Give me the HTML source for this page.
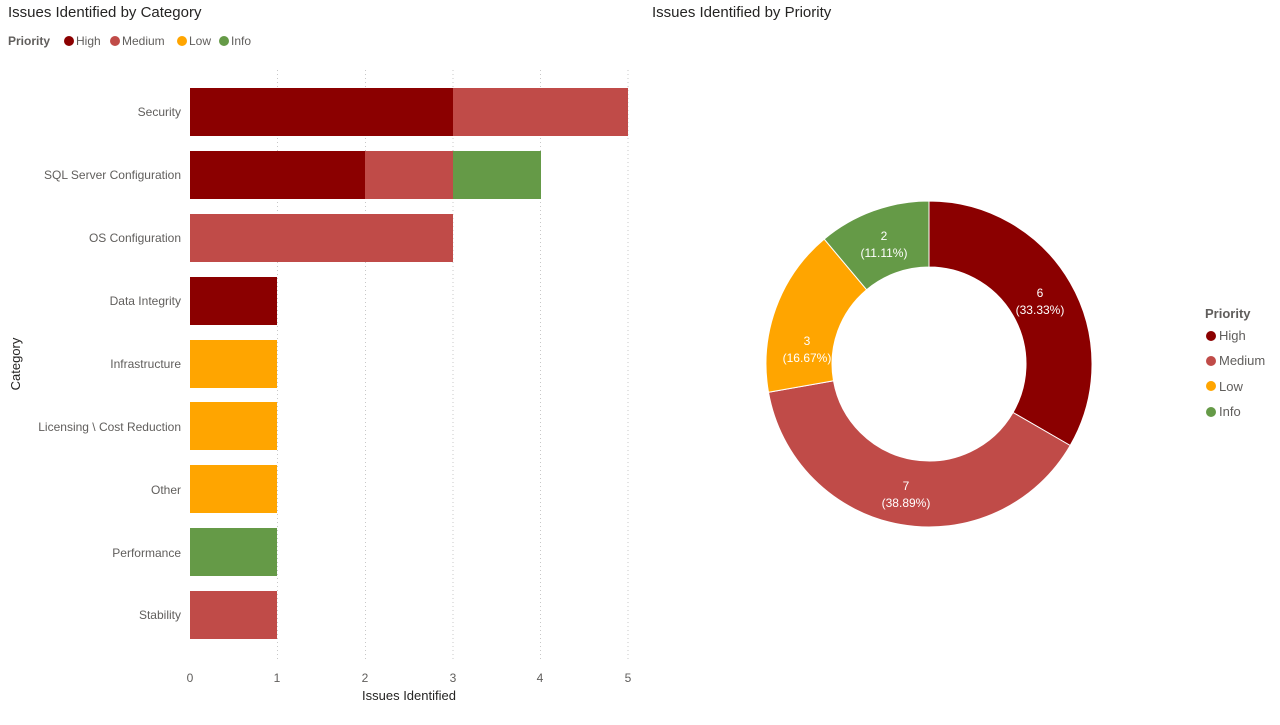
<!DOCTYPE html>
<html><head><meta charset="utf-8"><style>
body{margin:0;background:#fff;width:1280px;height:720px;overflow:hidden}
svg text{font-family:"Liberation Sans",sans-serif}
</style></head><body>
<svg width="1280" height="720" xmlns="http://www.w3.org/2000/svg">
<text x="8" y="17" font-size="15" fill="#252423">Issues Identified by Category</text>
<text x="652" y="17" font-size="15" fill="#252423">Issues Identified by Priority</text>
<g font-size="12" fill="#605e5c">
<text x="8" y="45" font-weight="bold">Priority</text>
<circle cx="69" cy="41" r="5" fill="#8B0000"/><text x="76" y="45">High</text>
<circle cx="115" cy="41" r="5" fill="#C04B48"/><text x="122" y="45">Medium</text>
<circle cx="182" cy="41" r="5" fill="#FFA500"/><text x="189" y="45">Low</text>
<circle cx="224" cy="41" r="5" fill="#659A47"/><text x="231" y="45">Info</text>
</g>
<g stroke="#c8c8c8" stroke-dasharray="1,3">
<line x1="277.5" y1="70" x2="277.5" y2="660"/><line x1="365.5" y1="70" x2="365.5" y2="660"/>
<line x1="453" y1="70" x2="453" y2="660"/><line x1="540.5" y1="70" x2="540.5" y2="660"/>
<line x1="628" y1="70" x2="628" y2="660"/>
</g>
<g>
<rect x="190" y="88" width="263" height="48" fill="#8B0000"/><rect x="453" y="88" width="175" height="48" fill="#C04B48"/>
<rect x="190" y="151" width="175" height="48" fill="#8B0000"/><rect x="365" y="151" width="88" height="48" fill="#C04B48"/><rect x="453" y="151" width="88" height="48" fill="#659A47"/>
<rect x="190" y="214" width="263" height="48" fill="#C04B48"/>
<rect x="190" y="277" width="87" height="48" fill="#8B0000"/>
<rect x="190" y="340" width="87" height="48" fill="#FFA500"/>
<rect x="190" y="402" width="87" height="48" fill="#FFA500"/>
<rect x="190" y="465" width="87" height="48" fill="#FFA500"/>
<rect x="190" y="528" width="87" height="48" fill="#659A47"/>
<rect x="190" y="591" width="87" height="48" fill="#C04B48"/>
</g>
<g font-size="12" fill="#605e5c" text-anchor="end">
<text x="181" y="116">Security</text>
<text x="181" y="179">SQL Server Configuration</text>
<text x="181" y="242">OS Configuration</text>
<text x="181" y="305">Data Integrity</text>
<text x="181" y="368">Infrastructure</text>
<text x="181" y="431">Licensing \ Cost Reduction</text>
<text x="181" y="494">Other</text>
<text x="181" y="557">Performance</text>
<text x="181" y="619">Stability</text>
</g>
<g font-size="12" fill="#605e5c" text-anchor="middle">
<text x="190" y="682">0</text><text x="277" y="682">1</text><text x="365" y="682">2</text>
<text x="453" y="682">3</text><text x="540" y="682">4</text><text x="628" y="682">5</text>
</g>
<text x="409" y="700" font-size="13" fill="#252423" text-anchor="middle">Issues Identified</text>
<text transform="translate(20,364) rotate(-90)" font-size="13" fill="#252423" text-anchor="middle">Category</text>
<g stroke="#fff" stroke-width="1">
<path d="M929,201 A163,163 0 0 1 1070.2,445.5 L1013,412.5 A97,97 0 0 0 929,267 Z" fill="#8B0000"/>
<path d="M1070.2,445.5 A163,163 0 0 1 768.5,392.3 L833.5,380.8 A97,97 0 0 0 1013,412.5 Z" fill="#C04B48"/>
<path d="M768.5,392.3 A163,163 0 0 1 824.2,239.1 L866.6,289.7 A97,97 0 0 0 833.5,380.8 Z" fill="#FFA500"/>
<path d="M824.2,239.1 A163,163 0 0 1 929,201 L929,267 A97,97 0 0 0 866.6,289.7 Z" fill="#659A47"/>
</g>
<g font-size="12" fill="#fff" text-anchor="middle">
<text x="1040" y="297">6</text><text x="1040" y="314">(33.33%)</text>
<text x="906" y="490">7</text><text x="906" y="507">(38.89%)</text>
<text x="807" y="345">3</text><text x="807" y="362">(16.67%)</text>
<text x="884" y="240">2</text><text x="884" y="257">(11.11%)</text>
</g>
<g font-size="13" fill="#605e5c">
<text x="1205" y="318" font-weight="bold">Priority</text>
<circle cx="1211" cy="336" r="5" fill="#8B0000"/><text x="1219" y="340">High</text>
<circle cx="1211" cy="361" r="5" fill="#C04B48"/><text x="1219" y="365">Medium</text>
<circle cx="1211" cy="386" r="5" fill="#FFA500"/><text x="1219" y="391">Low</text>
<circle cx="1211" cy="412" r="5" fill="#659A47"/><text x="1219" y="416">Info</text>
</g>
</svg>
</body></html>
